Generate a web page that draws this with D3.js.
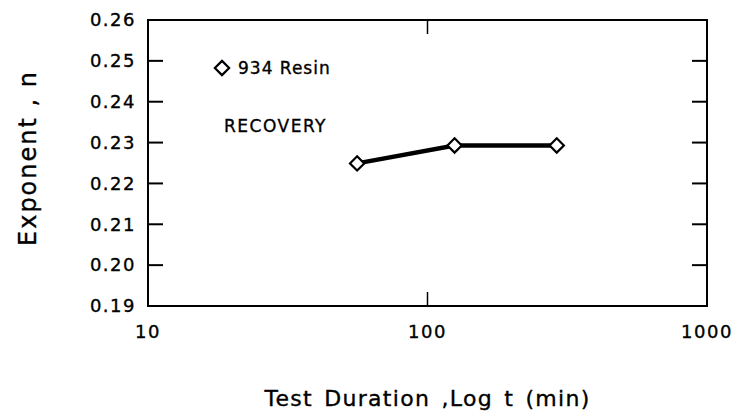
<!DOCTYPE html>
<html>
<head>
<meta charset="utf-8">
<script src="https://cdn.jsdelivr.net/npm/d3@7"></script>
<style>
  body { margin: 0; background: #fff; }
  text { font-family: "DejaVu Sans", sans-serif; fill: #000; stroke: #000; stroke-width: 0.35px; }
</style>
</head>
<body>
<div id="chart"></div>
<script>
const width = 739;
const height = 417;
const margin = {top: 20, right: 32, bottom: 111, left: 148};
const graphWidth = width - margin.left - margin.right;
const graphHeight = height - margin.top - margin.bottom;

// data
const duration = [56, 125, 290];
const exponent = [0.2249, 0.2293, 0.2293];
const yTicks = [0.19, 0.20, 0.21, 0.22, 0.23, 0.24, 0.25, 0.26];
const xTicks = [10, 100, 1000];

const svg = d3.select('#chart')
  .append('svg')
  .attr('width', width)
  .attr('height', height);

const graph = svg.append('g')
  .attr('transform', 'translate(' + margin.left + ',' + margin.top + ')');

const x = d3.scaleLog().domain([10, 1000]).range([0, graphWidth]);
const y = d3.scaleLinear().domain([0.19, 0.26]).range([graphHeight, 0]);

// frame
graph.append('rect')
  .attr('width', graphWidth)
  .attr('height', graphHeight)
  .attr('fill', 'none')
  .attr('stroke', '#000')
  .attr('stroke-width', 2);

const tickLen = 15;

// y ticks on both sides, pointing inward
const yInner = yTicks.filter(d => d > 0.19 && d < 0.26);
graph.selectAll('.ytl').data(yInner).enter().append('line')
  .attr('x1', 0).attr('x2', tickLen)
  .attr('y1', d => y(d)).attr('y2', d => y(d))
  .attr('stroke', '#000').attr('stroke-width', 2);
graph.selectAll('.ytr').data(yInner).enter().append('line')
  .attr('x1', graphWidth - tickLen).attr('x2', graphWidth)
  .attr('y1', d => y(d)).attr('y2', d => y(d))
  .attr('stroke', '#000').attr('stroke-width', 2);

// x ticks top and bottom
const xInner = xTicks.filter(d => d > 10 && d < 1000);
graph.selectAll('.xtb').data(xInner).enter().append('line')
  .attr('x1', d => x(d)).attr('x2', d => x(d))
  .attr('y1', graphHeight).attr('y2', graphHeight - 14)
  .attr('stroke', '#000').attr('stroke-width', 1.5);
graph.selectAll('.xtt').data(xInner).enter().append('line')
  .attr('x1', d => x(d)).attr('x2', d => x(d))
  .attr('y1', 0).attr('y2', 14)
  .attr('stroke', '#000').attr('stroke-width', 1.5);

// tick labels
graph.selectAll('.ylab').data(yTicks).enter().append('text')
  .attr('x', -12)
  .attr('y', d => y(d))
  .attr('dy', '0.35em')
  .attr('text-anchor', 'end')
  .style('font-size', '18px')
  .style('letter-spacing', '1.5px')
  .text(d => d3.format('.2f')(d));

graph.selectAll('.xlab').data(xTicks).enter().append('text')
  .attr('x', d => x(d))
  .attr('y', graphHeight + 32)
  .attr('text-anchor', 'middle')
  .style('font-size', '18px')
  .style('letter-spacing', '1.5px')
  .text(d => d);

// axis titles
svg.append('text')
  .attr('x', margin.left + graphWidth / 2)
  .attr('y', 406)
  .attr('text-anchor', 'middle')
  .style('font-size', '22px')
  .style('letter-spacing', '1.3px')
  .style('word-spacing', '3px')
  .text('Test Duration ,Log t (min)');

svg.append('text')
  .attr('transform', 'translate(36,' + 158 + ') rotate(-90)')
  .attr('text-anchor', 'middle')
  .style('font-size', '24px')
  .style('letter-spacing', '2px')
  .text('Exponent , n');

// series line and markers
const diamond = d3.symbol().type(d3.symbolDiamond2).size(130);
const pts = duration.map((d, i) => ({t: d, n: exponent[i]}));

graph.append('path')
  .datum(pts)
  .attr('fill', 'none')
  .attr('stroke', '#000')
  .attr('stroke-width', 4.5)
  .attr('d', d3.line().x(d => x(d.t)).y(d => y(d.n)));

graph.selectAll('.pt').data(pts).enter().append('path')
  .attr('d', diamond)
  .attr('transform', d => 'translate(' + x(d.t) + ',' + y(d.n) + ')')
  .attr('fill', '#fff')
  .attr('stroke', '#000')
  .attr('stroke-width', 2.2);

// legend and note
graph.append('path')
  .attr('d', diamond)
  .attr('transform', 'translate(' + 74 + ',' + 48 + ')')
  .attr('fill', '#fff')
  .attr('stroke', '#000')
  .attr('stroke-width', 2.2);
graph.append('text')
  .attr('x', 90).attr('y', 48).attr('dy', '0.35em')
  .style('font-size', '17px')
  .style('letter-spacing', '1px')
  .text('934 Resin');
graph.append('text')
  .attr('x', 76).attr('y', 106).attr('dy', '0.35em')
  .style('font-size', '17px')
  .style('letter-spacing', '1.5px')
  .text('RECOVERY');
</script>
</body>
</html>
